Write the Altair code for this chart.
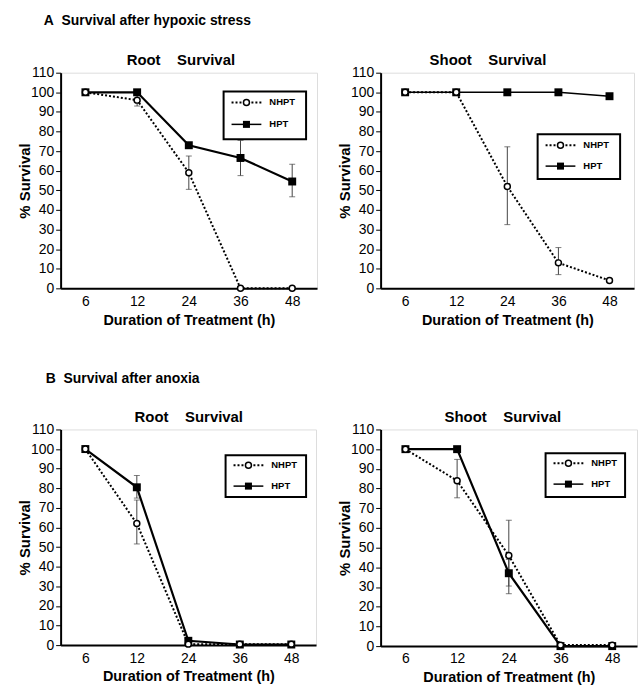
import altair as alt
import pandas as pd

FONT = "Liberation Sans"

hours = [6, 12, 24, 36, 48]
series_names = ["NHPT", "HPT"]

# Panel A (hypoxic stress) - Root
a_root_nhpt = [100, 96, 59, 0, 0]
a_root_hpt = [100, 100, 73, 66.5, 54.5]
a_root_nhpt_lo = [None, 93, 50.5, None, None]
a_root_nhpt_hi = [None, 98.5, 67.5, None, None]
a_root_hpt_lo = [None, None, None, 57.5, 46.7]
a_root_hpt_hi = [None, None, None, 75.5, 63.3]

# Panel A - Shoot
a_shoot_nhpt = [100, 100, 52, 13, 4]
a_shoot_hpt = [100, 100, 100, 100, 98]
a_shoot_nhpt_lo = [None, None, 32.5, 7, None]
a_shoot_nhpt_hi = [None, None, 72.2, 20.8, None]
a_shoot_hpt_lo = [None, None, None, None, None]
a_shoot_hpt_hi = [None, None, None, None, None]

# Panel B (anoxia) - Root
b_root_nhpt = [100, 62, 0.5, 0.5, 0.5]
b_root_hpt = [100, 80.5, 2.2, 0.3, 0.3]
b_root_nhpt_lo = [None, 51.6, None, None, None]
b_root_nhpt_hi = [None, 74, None, None, None]
b_root_hpt_lo = [None, 75, None, None, None]
b_root_hpt_hi = [None, 86.5, None, None, None]

# Panel B - Shoot
b_shoot_nhpt = [100, 84, 46, 0.5, 0.5]
b_shoot_hpt = [100, 100, 37, 0, 0]
b_shoot_nhpt_lo = [None, 75.3, 26.6, None, None]
b_shoot_nhpt_hi = [None, 94.8, 63.9, None, None]
b_shoot_hpt_lo = [None, None, 30.5, None, None]
b_shoot_hpt_hi = [None, None, 44, None, None]

row_titles = ["A\u00a0\u00a0Survival after hypoxic stress", "B\u00a0\u00a0Survival after anoxia"]
root_title = "Root\u00a0\u00a0\u00a0\u00a0Survival"
shoot_title = "Shoot\u00a0\u00a0\u00a0\u00a0Survival"
x_title = "Duration of Treatment (h)"
y_title = "% Survival"


def build_df(nhpt, hpt, nlo, nhi, hlo, hhi):
    rows = []
    for i, t in enumerate(hours):
        rows.append({"t": t, "s": "NHPT", "v": nhpt[i], "lo": nlo[i], "hi": nhi[i]})
        rows.append({"t": t, "s": "HPT", "v": hpt[i], "lo": hlo[i], "hi": hhi[i]})
    return pd.DataFrame(rows)


def panel(df, title, w, h, title_cx, legend, hpt_width=2.2, row_title=None, row_pos=None):
    x_axis = alt.Axis(title=x_title, labelAngle=0, ticks=False, labelPadding=6,
                      labelFontSize=14, labelFont=FONT, labelColor="black",
                      titleFont=FONT, titleFontSize=14.5, titleFontWeight="bold",
                      titleColor="black", titleY=32, titleBaseline="middle",
                      domainColor="black", domainWidth=2, grid=False)
    y_axis = alt.Axis(title=y_title, values=list(range(0, 111, 10)), tickSize=5,
                      tickColor="black", tickWidth=1, labelPadding=2,
                      labelFontSize=14, labelFont=FONT, labelColor="black",
                      titleFont=FONT, titleFontSize=15, titleFontWeight="bold",
                      titleColor="black", titleAngle=270, titleX=-36, titleY=h / 2,
                      titleBaseline="middle", titleAlign="center",
                      domainColor="black", domainWidth=2, grid=False)
    x_scale = alt.Scale(type="point", padding=0.48, domain=hours)
    y_scale = alt.Scale(domain=[0, 110], nice=False)
    x = alt.X("t:O", scale=x_scale, axis=x_axis, title=x_title)
    y = alt.Y("v:Q", scale=y_scale, axis=y_axis, title=y_title)
    base = alt.Chart(df)
    err = base.transform_filter("datum.lo != null").mark_errorbar(
        ticks=alt.MarkConfig(size=6, color="#444"), color="#444", thickness=1
    ).encode(x=x, y=alt.Y("lo:Q", scale=y_scale, axis=y_axis, title=y_title), y2="hi:Q")
    nline = base.transform_filter("datum.s == 'NHPT'").mark_line(
        color="black", strokeWidth=2, strokeDash=[2, 2]).encode(x=x, y=y)
    hline = base.transform_filter("datum.s == 'HPT'").mark_line(
        color="black", strokeWidth=hpt_width).encode(x=x, y=y)
    hpts = base.transform_filter("datum.s == 'HPT'").mark_point(
        shape="square", filled=True, color="black", size=64, opacity=1).encode(x=x, y=y)
    npts = base.transform_filter("datum.s == 'NHPT'").mark_point(
        shape="circle", filled=False, fill="white", stroke="black", strokeWidth=1.5,
        size=36, opacity=1, fillOpacity=1).encode(x=x, y=y)

    L, T, W, H, r1, r2 = legend
    one = pd.DataFrame({"k": [0]})
    lg = alt.Chart(one)
    box = lg.mark_rect(fill="white", stroke="black", strokeWidth=2).encode(
        x=alt.value(L), x2=alt.value(L + W), y=alt.value(T), y2=alt.value(T + H))
    l1 = lg.mark_rule(color="black", strokeWidth=2, strokeDash=[2, 2]).encode(
        x=alt.value(L + 8), x2=alt.value(L + 38), y=alt.value(T + r1))
    p1 = lg.mark_point(shape="circle", filled=False, fill="white", stroke="black",
                       strokeWidth=1.5, size=36, opacity=1, fillOpacity=1).encode(
        x=alt.value(L + 23), y=alt.value(T + r1))
    t1 = lg.mark_text(align="left", baseline="middle", font=FONT, fontSize=9.5,
                      fontWeight="bold", color="black").encode(
        x=alt.value(L + 46), y=alt.value(T + r1), text=alt.value(series_names[0]))
    l2 = lg.mark_rule(color="black", strokeWidth=1.5).encode(
        x=alt.value(L + 8), x2=alt.value(L + 38), y=alt.value(T + r2))
    p2 = lg.mark_point(shape="square", filled=True, color="black", size=50, opacity=1).encode(
        x=alt.value(L + 23), y=alt.value(T + r2))
    t2 = lg.mark_text(align="left", baseline="middle", font=FONT, fontSize=9.5,
                      fontWeight="bold", color="black").encode(
        x=alt.value(L + 46), y=alt.value(T + r2), text=alt.value(series_names[1]))

    ttl = lg.mark_text(align="center", baseline="alphabetic", font=FONT, fontSize=15,
                       fontWeight="bold", color="black").encode(
        x=alt.value(title_cx), y=alt.value(-8), text=alt.value(title))

    layers = [err, nline, hline, hpts, npts, box, l1, p1, t1, l2, p2, t2, ttl]
    if row_title is not None:
        rt = lg.mark_text(align="left", baseline="alphabetic", font=FONT, fontSize=14,
                          fontWeight="bold", color="black").encode(
            x=alt.value(row_pos[0]), y=alt.value(row_pos[1]), text=alt.value(row_title))
        layers.append(rt)

    return alt.layer(*layers).properties(width=w, height=h)


df_a_root = build_df(a_root_nhpt, a_root_hpt, a_root_nhpt_lo, a_root_nhpt_hi, a_root_hpt_lo, a_root_hpt_hi)
df_a_shoot = build_df(a_shoot_nhpt, a_shoot_hpt, a_shoot_nhpt_lo, a_shoot_nhpt_hi, a_shoot_hpt_lo, a_shoot_hpt_hi)
df_b_root = build_df(b_root_nhpt, b_root_hpt, b_root_nhpt_lo, b_root_nhpt_hi, b_root_hpt_lo, b_root_hpt_hi)
df_b_shoot = build_df(b_shoot_nhpt, b_shoot_hpt, b_shoot_nhpt_lo, b_shoot_nhpt_hi, b_shoot_hpt_lo, b_shoot_hpt_hi)

A1 = panel(df_a_root, root_title, 258, 217, 121, (164, 19, 83, 48, 11, 33),
           row_title=row_titles[0], row_pos=(-17, -48.5))
A2 = panel(df_a_shoot, shoot_title, 255, 217, 108, (158, 62, 83, 45, 11, 32), hpt_width=1.5)
B1 = panel(df_b_root, root_title, 257, 217, 129, (166, 26, 81, 42, 10, 31),
           row_title=row_titles[1], row_pos=(-15, -47))
B2 = panel(df_b_shoot, shoot_title, 258, 218, 123, (166, 24, 80, 44, 10, 31))

chart = alt.concat(A1, A2, B1, B2, columns=2, spacing={"row": 142, "column": 64},
                   bounds="flush").properties(
    padding={"left": 17, "top": 11, "right": 0, "bottom": 0}
).configure_view(stroke="black", strokeWidth=1).configure(background="white")

chart.save("out.html", embed_options={"renderer": "svg", "actions": False})
